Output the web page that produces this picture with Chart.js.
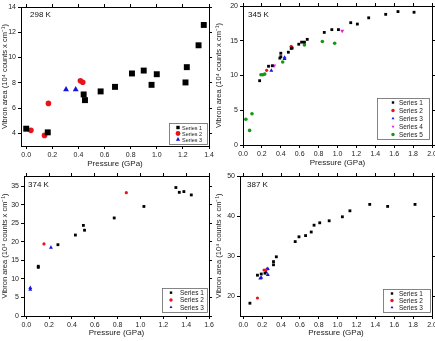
<!DOCTYPE html>
<html>
<head>
<meta charset="utf-8">
<script src="https://cdn.jsdelivr.net/npm/chart.js@4.4.1/dist/chart.umd.min.js"></script>
<style>
  body { margin: 0; background: #fff; width: 435px; height: 341px; position: relative; overflow: hidden; }
  canvas { position: absolute; }
</style>
</head>
<body>
<canvas id="c298"></canvas>
<canvas id="c345"></canvas>
<canvas id="c374"></canvas>
<canvas id="c387"></canvas>
<script>
// data: [pressure GPa, vibron area]
const k298_s1 = [[0.0,4.37],[0.165,4.08],[0.44,7.08],[0.45,6.63],[0.57,7.32],[0.68,7.68],[0.81,8.74],[0.90,8.97],[0.96,7.84],[1.00,8.68],[1.22,8.03],[1.23,9.24],[1.32,10.97],[1.36,12.58]];
const k298_s2 = [[0.036,4.24],[0.14,3.84],[0.17,6.37],[0.415,8.16],[0.433,8.05]];
const k298_s3 = [[0.305,7.47],[0.379,7.47]];

const k345_s1 = [[0.176,9.25],[0.27,11.33],[0.31,11.4],[0.39,12.5],[0.40,12.7],[0.40,13.2],[0.48,13.35],[0.51,13.9],[0.52,13.95],[0.59,14.5],[0.62,14.8],[0.65,14.8],[0.68,15.2],[0.86,16.2],[0.94,16.6],[1.01,16.6],[1.14,17.6],[1.21,17.4],[1.33,18.3],[1.51,18.8],[1.64,19.2],[1.81,19.1]];
const k345_s2 = [[0.25,10.75],[0.51,14.2]];
const k345_s3 = [[0.30,10.7],[0.44,12.4],[0.44,12.6]];
const k345_s4 = [[0.33,11.4],[1.05,16.4]];
const k345_s5 = [[0.03,3.7],[0.07,2.1],[0.095,4.5],[0.19,10.1],[0.21,10.1],[0.23,10.2],[0.42,11.95],[0.65,14.4],[0.84,14.9],[0.97,14.65]];

const k374_s1 = [[0.105,13.1],[0.105,13.4],[0.277,19.2],[0.43,21.8],[0.50,24.4],[0.51,23.1],[0.77,26.4],[1.03,29.5],[1.31,34.6],[1.34,33.3],[1.38,33.5],[1.445,32.6]];
const k374_s2 = [[0.155,19.4],[0.876,33.2]];
const k374_s3 = [[0.035,7.6],[0.035,7.1],[0.216,18.4]];

const k387_s1 = [[0.07,18.2],[0.15,25.2],[0.19,25.5],[0.23,25.7],[0.32,28.6],[0.32,27.8],[0.35,29.8],[0.55,33.6],[0.59,34.8],[0.66,35.1],[0.72,36.0],[0.75,37.7],[0.81,38.3],[0.91,38.8],[1.05,39.8],[1.13,41.3],[1.34,42.9],[1.53,42.4],[1.82,42.9]];
const k387_s2 = [[0.15,19.5],[0.22,26.5],[0.24,26.5]];
const k387_s3 = [[0.18,24.4],[0.19,24.6],[0.24,26.0],[0.25,26.7],[0.26,26.8],[0.26,25.3]];

const seriesNames = ['Series 1', 'Series 2', 'Series 3', 'Series 4', 'Series 5'];
const xTitle = 'Pressure (GPa)';
const yTitle = 'Vibron area (10\u2074 counts x cm\u207B\u00B9)';

const FONT = '"Liberation Sans", Arial, sans-serif';
// marker look per series number
const look = [
  {c: '#000000', s: 'rect', rot: 0},
  {c: '#e8141c', s: 'circle', rot: 0},
  {c: '#1414e0', s: 'triangle', rot: 0},
  {c: '#e020e0', s: 'triangle', rot: 180},
  {c: '#129a12', s: 'circle', rot: 0}
];

// legend box in the lower right of the plot
const boxLegend = {
  id: 'boxLegend',
  afterDraw(chart, args, o) {
    if (!o || !o.w) return;
    const {ctx, chartArea: a} = chart;
    const sets = chart.data.datasets;
    const h = o.pad * 2 + o.row * sets.length;
    const x0 = Math.round(a.right - o.right - o.w), y0 = Math.round(a.bottom - o.bottom - h);
    ctx.save();
    ctx.fillStyle = '#fff';
    ctx.fillRect(x0, y0, o.w, h);
    ctx.strokeStyle = '#666';
    ctx.lineWidth = 0.8;
    ctx.strokeRect(x0 + 0.5, y0 + 0.5, o.w, h);
    ctx.font = o.size + 'px ' + FONT;
    ctx.textBaseline = 'middle';
    ctx.textAlign = 'left';
    sets.forEach((d, i) => {
      const cy = y0 + o.pad + o.row * (i + 0.5);
      ctx.fillStyle = d.backgroundColor;
      ctx.strokeStyle = d.backgroundColor;
      Chart.helpers.drawPoint(ctx, {pointStyle: d.pointStyle, rotation: d.pointRotation, radius: o.mr, borderWidth: 0}, x0 + o.mx, cy);
      ctx.fillStyle = '#222';
      ctx.fillText(d.label, x0 + o.tx, cy + 0.5);
    });
    ctx.restore();
  }
};

// temperature note in the upper left
const tempNote = {
  id: 'tempNote',
  afterDraw(chart, args, o) {
    if (!o || !o.text) return;
    const {ctx, chartArea: a} = chart;
    ctx.save();
    ctx.font = '8px ' + FONT;
    ctx.fillStyle = '#111';
    ctx.textBaseline = 'middle';
    ctx.fillText(o.text, a.left + o.dx, a.top + o.dy);
    ctx.restore();
  }
};

function makeAxes(cv, pl, xr, xs, yr, ys, padB) {
  // cv: canvas [left, top, w, h], pl: plot [left, top, right, bottom] in page pixels
  const yW = pl[0] - cv[0];
  const y2W = cv[0] + cv[2] - pl[2];
  const x2H = pl[1] - cv[1];
  const xH = cv[1] + cv[3] - padB - pl[3];
  const grid = {drawOnChartArea: false, drawTicks: true, tickLength: 3, color: '#000', lineWidth: 1};
  const border = {display: true, color: '#000', width: 1};
  const tickFont = {family: FONT, size: 7};
  const fmtX = v => v.toFixed(1);
  return {
    x: {
      type: 'linear', position: 'bottom', min: xr[0], max: xr[1],
      grid: grid, border: border,
      ticks: {stepSize: xs, includeBounds: false, font: tickFont, color: '#222', padding: 2, maxRotation: 0, autoSkip: false, callback: fmtX},
      title: {display: true, text: xTitle, font: {family: FONT, size: 8}, color: '#222', padding: 0},
      afterFit: s => { s.height = xH; s.paddingLeft = 0; s.paddingRight = 0; }
    },
    x2: {
      type: 'linear', position: 'top', min: xr[0], max: xr[1],
      grid: grid, border: border,
      ticks: {stepSize: xs, includeBounds: false, display: false},
      afterFit: s => { s.height = x2H; s.paddingLeft = 0; s.paddingRight = 0; }
    },
    y: {
      type: 'linear', position: 'left', min: yr[0], max: yr[1],
      grid: grid, border: border,
      ticks: {stepSize: ys, includeBounds: false, font: tickFont, color: '#222', padding: 2},
      title: {display: true, text: yTitle, font: {family: FONT, size: 7.5}, color: '#222', padding: 0},
      afterFit: s => { s.width = yW; s.paddingTop = 0; s.paddingBottom = 0; }
    },
    y2: {
      type: 'linear', position: 'right', min: yr[0], max: yr[1],
      grid: grid, border: border,
      ticks: {stepSize: ys, includeBounds: false, display: false},
      afterFit: s => { s.width = y2W; s.paddingTop = 0; s.paddingBottom = 0; }
    }
  };
}

function makeSets(list, radii) {
  return list.map((pts, i) => ({
    label: seriesNames[i],
    data: pts.map(p => ({x: p[0], y: p[1]})),
    backgroundColor: look[i].c,
    borderColor: look[i].c,
    borderWidth: 0,
    pointStyle: look[i].s,
    pointRotation: look[i].rot,
    pointRadius: radii[i],
    pointHoverRadius: radii[i]
  }));
}

function panel(id, cv, pl, padB, xr, xs, yr, ys, sets, note, leg) {
  const el = document.getElementById(id);
  el.width = cv[2]; el.height = cv[3];
  el.style.left = cv[0] + 'px'; el.style.top = cv[1] + 'px';
  el.style.width = cv[2] + 'px'; el.style.height = cv[3] + 'px';
  return new Chart(el, {
    type: 'scatter',
    data: {datasets: sets},
    options: {
      responsive: false,
      animation: false,
      layout: {padding: {left: 0, right: 0, top: 0, bottom: padB}},
      scales: makeAxes(cv, pl, xr, xs, yr, ys, padB),
      plugins: {
        legend: {display: false},
        tooltip: {enabled: false},
        tempNote: note,
        boxLegend: leg
      }
    },
    plugins: [boxLegend, tempNote]
  });
}

panel('c298', [0, 0, 218, 172], [21, 7, 209, 146], 3, [-0.04, 1.4], 0.2, [3, 14], 2,
  makeSets([k298_s1, k298_s2, k298_s3], [4.2, 2.8, 3.4]),
  {text: '298 K', dx: 9, dy: 8},
  {w: 38, row: 6, pad: 1.5, right: 2, bottom: 2, mx: 9, tx: 13, size: 5.5, mr: 2.4});

panel('c345', [214, 0, 221, 172], [243, 6, 432, 145], 4, [0, 2.0], 0.2, [0, 20], 5,
  makeSets([k345_s1, k345_s2, k345_s3, k345_s4, k345_s5], [2.0, 1.6, 2.3, 2.3, 1.8]),
  {text: '345 K', dx: 5, dy: 9},
  {w: 52, row: 8, pad: 0.5, right: 3, bottom: 6, mx: 16, tx: 22, size: 6.5, mr: 1.7});

panel('c374', [0, 170, 218, 171], [24, 176, 209, 316], 3, [-0.02, 1.6], 0.2, [0, 37.7], 5,
  makeSets([k374_s1, k374_s2, k374_s3], [2.0, 1.6, 2.3]),
  {text: '374 K', dx: 4, dy: 9},
  {w: 45, row: 7.3, pad: 1, right: 2, bottom: 4, mx: 9, tx: 18, size: 6.5, mr: 1.7});

panel('c387', [214, 170, 221, 171], [240, 176, 432, 316], 3, [-0.035, 2.0], 0.2, [15, 50], 10,
  makeSets([k387_s1, k387_s2, k387_s3], [2.0, 1.6, 2.3]),
  {text: '387 K', dx: 7, dy: 9},
  {w: 47, row: 7, pad: 1, right: 2, bottom: 4, mx: 9, tx: 16, size: 6.5, mr: 1.7});
</script>
</body>
</html>
